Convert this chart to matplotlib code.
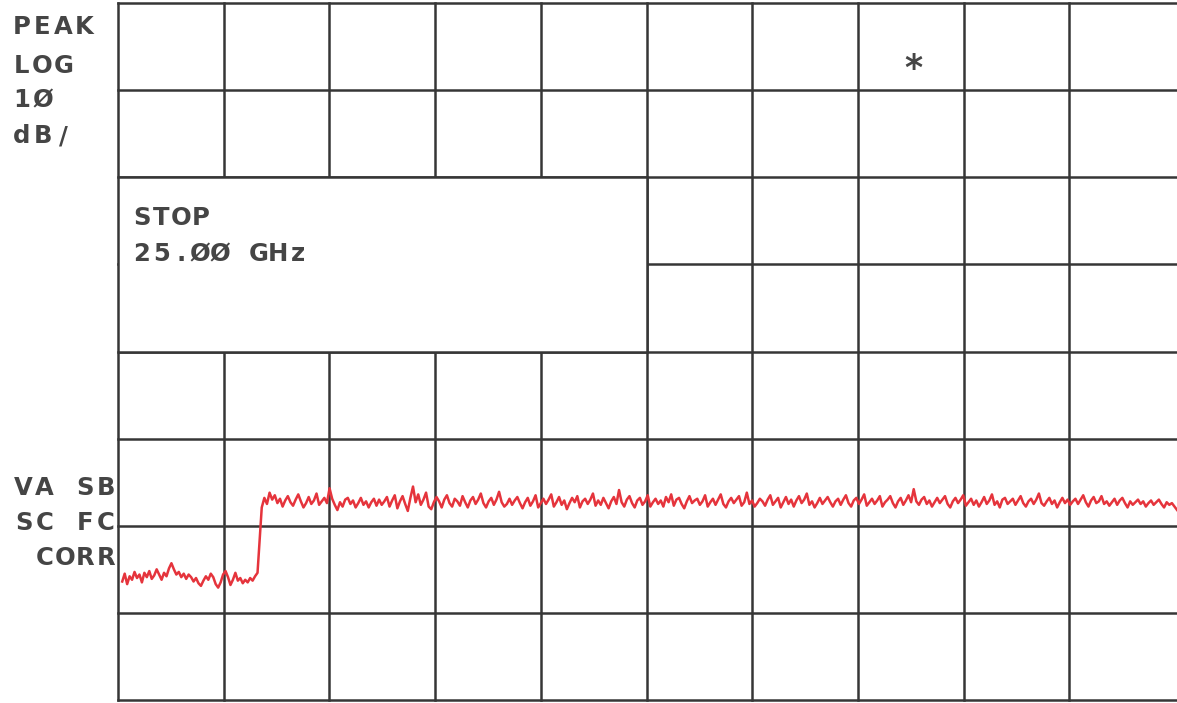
import numpy as np
import matplotlib.pyplot as plt
from matplotlib.patches import Rectangle

W, H = 1177, 703

# trace levels in dB (10 dB/div, top graticule line = 0 dB)
low_db = [-66.4, -65.5, -66.7, -65.8, -66.2, -65.3, -66.0, -65.6, -66.5, -65.4,
          -65.9, -65.2, -66.1, -65.7, -65.0, -65.6, -66.2, -65.4, -65.8, -64.9,
          -64.3, -65.0, -65.6, -65.3, -65.9, -65.5, -66.1, -65.6, -65.9, -66.4,
          -66.0, -66.6, -66.9, -66.3, -65.8, -66.2, -65.5, -65.9, -66.7, -67.1,
          -66.5, -65.6, -65.2, -65.9, -66.8, -66.2, -65.4, -66.3, -66.0, -66.6,
          -66.2, -66.5, -66.0, -66.3, -65.8, -65.4]
high_db = [-57.9, -56.8, -57.5, -56.2, -57.0, -56.5, -57.4, -56.9, -57.8, -57.1, -56.6, -57.3,
           -57.7, -57.0, -56.4, -57.2, -57.9, -57.4, -56.7, -57.5, -57.1, -56.3, -57.6, -57.2,
           -56.8, -57.4, -55.7, -56.9, -57.6, -58.2, -57.3, -57.8, -57.0, -56.8, -57.5, -57.1,
           -57.9, -57.4, -56.8, -57.6, -57.2, -57.9, -57.3, -56.9, -57.7, -57.0, -57.6, -57.2,
           -56.7, -57.8, -57.1, -56.5, -58.0, -57.2, -56.6, -57.5, -58.3, -56.8, -55.5, -57.3,
           -56.4, -57.6, -57.0, -56.2, -57.8, -58.1, -57.3, -56.7, -57.2, -57.9, -57.0, -56.5,
           -57.4, -57.8, -56.9, -57.2, -57.7, -56.6, -57.3, -57.9, -57.1, -56.7, -57.5, -57.0,
           -56.3, -57.4, -57.9, -57.2, -56.8, -57.6, -57.0, -56.1, -57.3, -57.8, -57.5, -56.9,
           -57.6, -57.1, -56.7, -57.4, -58.0, -57.3, -56.8, -57.7, -57.2, -56.5, -57.9, -57.4,
           -56.9, -57.5, -57.0, -56.4, -57.8, -57.3, -56.7, -57.6, -57.1, -58.1, -57.4, -56.8,
           -57.3, -56.6, -57.9, -57.2, -56.9, -57.5, -57.0, -56.3, -57.7, -57.1, -57.6, -56.8,
           -57.4, -58.0, -57.2, -56.7, -57.5, -55.9, -57.3, -57.8, -57.0, -56.6, -57.4, -57.9,
           -57.1, -56.8, -57.6, -57.2, -56.5, -57.8, -57.3, -56.9, -57.5, -57.1, -57.8, -56.7,
           -57.3, -56.4, -57.7, -57.0, -56.8, -57.5, -58.0, -57.2, -56.6, -57.4, -57.1, -56.9,
           -57.6, -57.2, -56.5, -57.8, -57.3, -56.9, -57.6, -57.0, -56.4, -57.5, -57.9, -57.2,
           -56.8, -57.4, -57.0, -56.6, -57.7, -57.3, -56.2, -57.5, -57.1, -57.8, -57.4, -56.9,
           -57.2, -57.7, -57.0, -56.5, -57.6, -57.2, -56.8, -57.9, -57.3, -56.7, -57.5, -57.0,
           -57.8, -57.1, -56.6, -57.4, -57.0, -56.3, -57.6, -57.2, -57.9, -57.4, -56.8, -57.5,
           -57.1, -56.7, -57.3, -57.8, -57.2, -56.9, -57.6, -57.0, -56.5, -57.4, -57.8, -57.1,
           -56.8, -57.5, -57.0, -56.4, -57.7, -57.3, -56.9, -57.5, -57.1, -56.6, -57.8, -57.3,
           -57.0, -56.6, -57.4, -57.9, -57.2, -56.8, -57.6, -57.1, -56.5, -57.3, -55.8, -57.2,
           -57.6, -57.0, -56.7, -57.5, -57.1, -57.8, -57.3, -56.8, -57.4, -57.0, -56.6, -57.5,
           -57.9, -57.2, -56.8, -57.4, -57.0, -56.5, -57.7, -57.3, -56.9, -57.6, -57.1, -57.8,
           -57.3, -56.7, -57.5, -57.1, -56.4, -57.6, -57.2, -57.9, -57.0, -56.8, -57.5, -57.2,
           -56.9, -57.6, -57.1, -56.6, -57.4, -57.8, -57.2, -56.9, -57.5, -57.0, -56.3, -57.4,
           -57.7, -57.2, -56.8, -57.5, -57.1, -57.9, -57.3, -56.8, -57.4, -57.0, -57.6, -57.2,
           -56.9, -57.5, -57.0, -56.5, -57.3, -57.8, -57.1, -56.7, -57.4, -57.2, -56.6, -57.5,
           -57.2, -57.7, -57.3, -56.9, -57.6, -57.1, -56.8, -57.4, -57.9, -57.2, -57.6, -57.3,
           -57.0, -57.5, -57.2, -57.8, -57.4, -57.1, -57.6, -57.3, -57.0, -57.5, -57.9, -57.3,
           -57.6, -57.4, -57.8, -58.2]

# sweep positions in graticule divisions
sweep_start, sweep_step, sweep_end = 0.04, 1.34, 10.02

left_labels = ["PEAK", "LOG", "1Ø", "dB/"]
corr_labels = ["VA SB", "SC FC", "CORR"]
stop_labels = ["STOP", "25.ØØ GHz"]

ink = "#363636"
text_ink = "#454545"
red = "#e5343c"

fig = plt.figure(figsize=(W / 100, H / 100), dpi=100)
fig.patch.set_facecolor("white")
ax = fig.add_axes([118 / W, 1 - 700 / H, (W - 118) / W, 697 / H])
ax.set_xlim(0, (W - 118) / 105.7)
ax.set_ylim(-80, 0)
ax.axis("off")

# graticule
for xv in range(10):
    ax.plot([xv, xv], [-80, 0], color=ink, lw=1.8, zorder=1, clip_on=False)
for yv in range(0, -90, -10):
    ax.plot([0, 10.02], [yv, yv], color=ink, lw=1.8, zorder=1, clip_on=False)

# annotation block covering part of the graticule
ax.add_patch(Rectangle((0, -40), 5, 20, facecolor="white", edgecolor=ink,
                       lw=1.8, zorder=2))

# trace
x_low = np.linspace(sweep_start, sweep_step - 0.02, len(low_db))
x_high = np.linspace(sweep_step + 0.02, sweep_end, len(high_db))
ax.plot(np.concatenate([x_low, x_high]), low_db + high_db,
        color=red, lw=1.8, zorder=3, clip_on=False)

font = dict(family="DejaVu Sans", fontsize=17.5, fontweight="bold", color=text_ink)


def plotter_text(x, base, s, pitch, align="left"):
    # fixed-pitch lettering, one cell per character
    if align == "right":
        x = x - len(s) * pitch
    for i, ch in enumerate(s):
        if ch != " ":
            fig.text((x + (i + 0.5) * pitch) / W, 1 - base / H, ch,
                     ha="center", va="baseline", **font)


for label, base in zip(left_labels, [34, 73, 107, 143]):
    plotter_text(11, base, label, 21)

for label, base in zip(corr_labels, [495, 530, 565]):
    plotter_text(116, base, label, 20.5, align="right")

for label, base in zip(stop_labels, [225, 261]):
    plotter_text(132, base, label, 19.5)

# marker asterisk
fig.text(913 / W, 1 - 79 / H, "*", ha="center", va="baseline",
         family="DejaVu Sans", fontsize=25, fontweight="bold", color=text_ink)

fig.savefig("out.png", dpi=100, facecolor="white")
